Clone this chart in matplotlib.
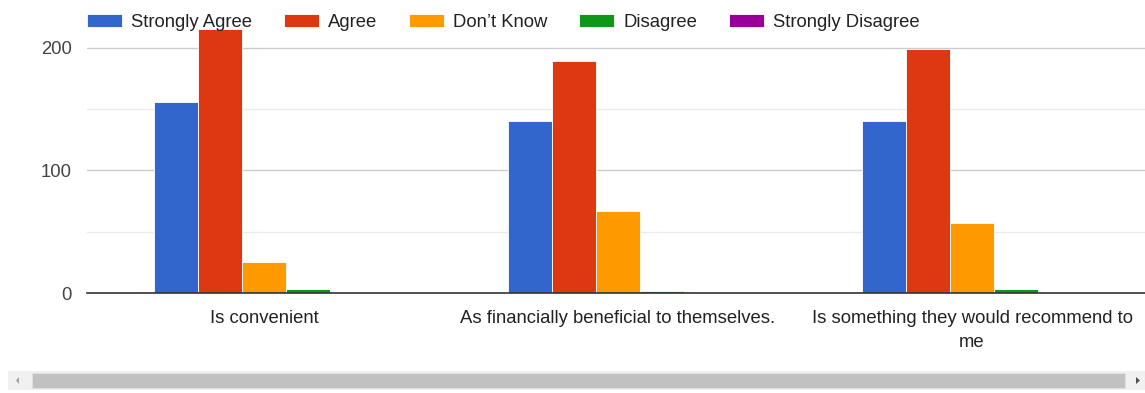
import numpy as np
import matplotlib
matplotlib.use("Agg")
from matplotlib import pyplot as plt
from matplotlib.patches import Rectangle, Polygon

# Daten
kategorien = ["Is convenient",
              "As financially beneficial to themselves.",
              "Is something they would recommend to\nme"]
serien = ["Strongly Agree", "Agree", "Don\u2019t Know", "Disagree", "Strongly Disagree"]
strongly_agree = [156, 140, 140]
agree = [215, 189, 199]
dont_know = [25, 67, 57]
disagree = [3, 2, 3]
strongly_disagree = [0, 1, 0]
werte = [strongly_agree, agree, dont_know, disagree, strongly_disagree]
farben = ["#3366cc", "#dc3912", "#ff9900", "#109618", "#990099"]

plt.rcParams['font.family'] = ['Liberation Sans', 'DejaVu Sans']
fs = 13.3

W, H = 1145, 393
fig = plt.figure(figsize=(W / 100, H / 100), dpi=100)

# Achsen: x 87..1149 px, y 293 (0) bis 23 (220)
ax = fig.add_axes([87 / W, 100 / H, 1062 / W, 270 / H])

x = np.arange(len(kategorien))
breite = 44 / 354
for i, (name, v, f) in enumerate(zip(serien, werte, farben)):
    ax.bar(x + (i - 2) * breite, v, breite, color=f, label=name,
           edgecolor="white", linewidth=0.6, zorder=3)

ax.set_xlim(-0.5, 2.5)
ax.set_ylim(0, 220)
ax.set_yticks([0, 100, 200])
ax.set_yticks([50, 150], minor=True)
ax.grid(axis="y", which="major", color="#cccccc", linewidth=1, zorder=0)
ax.grid(axis="y", which="minor", color="#ebebeb", linewidth=1, zorder=0)
ax.tick_params(axis="y", which="both", length=0, pad=11, labelsize=fs, labelcolor="#444444")
ax.set_xticks(x)
ax.set_xticklabels(kategorien, fontsize=fs, color="#222222", linespacing=1.6)
ax.tick_params(axis="x", length=0, pad=12)
for s in ["top", "right", "left"]:
    ax.spines[s].set_visible(False)
ax.spines["bottom"].set_color("#333333")
ax.spines["bottom"].set_linewidth(1.2)
ax.spines["bottom"].set_zorder(4)

# Legende oben
fig.legend(loc="center left", bbox_to_anchor=(87 / W, 1 - 22.5 / H), ncol=5,
           frameon=False, fontsize=fs, handlelength=1.9, handleheight=0.72,
           handletextpad=0.49, columnspacing=1.72, borderpad=0, borderaxespad=0,
           labelcolor="#222222")

# Scrollbalken unten
fig.patches.append(Rectangle((8 / W, 3 / H), 1137 / W, 19 / H, transform=fig.transFigure,
                             facecolor="#f1f1f1", edgecolor="none"))
fig.patches.append(Rectangle((32 / W, 5 / H), 1093 / W, 15 / H, transform=fig.transFigure,
                             facecolor="#c1c1c1", edgecolor="#e0e0e0", linewidth=0.8))
fig.patches.append(Polygon([[16 / W, 12.5 / H], [19 / W, 9 / H], [19 / W, 16 / H]],
                           closed=True, transform=fig.transFigure, facecolor="#a3a3a3"))
fig.patches.append(Polygon([[1136 / W, 9 / H], [1136 / W, 16 / H], [1140 / W, 12.5 / H]],
                           closed=True, transform=fig.transFigure, facecolor="#505050"))

fig.savefig("out.png", dpi=100)
